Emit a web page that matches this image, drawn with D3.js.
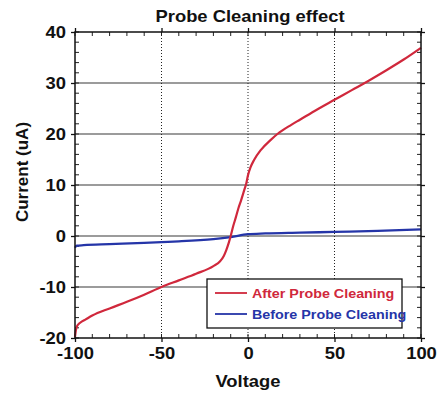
<!DOCTYPE html>
<html>
<head>
    <meta charset="utf-8">
    <title>probe cleaning</title>
    <script type="text/javascript" src="https://d3js.org/d3.v7.min.js"></script>
    <style>
      body { margin: 0; background: white; }
      text { font-family: "Liberation Sans", Arial, sans-serif; font-weight: bold; }
    </style>
</head>
<body>
<script type="text/javascript">

// After Probe Cleaning (red)
var afterV = [-100, -99.5, -99, -97, -94, -90, -80, -70, -60, -50, -40, -30, -20, -16, -14, -12.5, -11, -10, -8.5, -7, -5.5, -4, -2, -1, 0, 1.5, 3.5, 7.5, 13, 17, 25, 30, 40, 50, 60, 70, 80, 90, 100]
var afterI = [-19.8, -18.5, -17.8, -17, -16.4, -15.6, -14.2, -12.9, -11.5, -10, -8.7, -7.4, -5.9, -4.9, -3.9, -2.7, -1.2, 0, 2, 3.7, 5.5, 7, 9.2, 10.3, 11.9, 13.5, 14.9, 16.9, 18.8, 20, 21.8, 22.8, 24.8, 26.7, 28.6, 30.5, 32.5, 34.6, 36.9]

// Before Probe Cleaning (blue)
var beforeV = [-100, -99, -95, -80, -60, -50, -40, -20, -10, 0, 10, 30, 50, 75, 100]
var beforeI = [-2.3, -1.9, -1.8, -1.6, -1.35, -1.2, -1.05, -0.6, -0.2, 0.35, 0.5, 0.65, 0.8, 1.0, 1.3]

var xTicks = [-100, -50, 0, 50, 100]
var yTicks = [-20, -10, 0, 10, 20, 30, 40]
var xGrid = [-50, 0, 50]
var yGrid = [-10, 0, 10, 20, 30]

var seriesNames = ["After Probe Cleaning", "Before Probe Cleaning"]
var seriesColors = ["#d0283c", "#2535a8"]

var width = 440
var height = 394
var pLeft = 75, pRight = 421, pTop = 32, pBottom = 338
var stretch = 1.15
var fmt = function(d){ return String(d) }   // plain hyphen minus like the original

var svg = d3.select("body").append("svg").attr("width", width).attr("height", height)

var x = d3.scaleLinear().domain([-100, 100]).range([pLeft, pRight])
var y = d3.scaleLinear().domain([-20, 40]).range([pBottom, pTop])

// grid
svg.append("g").selectAll("line")
    .data(yGrid)
    .enter()
    .append("line")
    .attr("x1", pLeft).attr("x2", pRight)
    .attr("y1", function(d){ return y(d) }).attr("y2", function(d){ return y(d) })
    .attr("stroke", "#7a7a7a")
    .attr("stroke-width", 1.4)

svg.append("g").selectAll("line")
    .data(xGrid)
    .enter()
    .append("line")
    .attr("y1", pTop).attr("y2", pBottom)
    .attr("x1", function(d){ return x(d) }).attr("x2", function(d){ return x(d) })
    .attr("stroke", "#222")
    .attr("stroke-width", 1)
    .attr("stroke-dasharray", "1,2")

// minor ticks (inside, all four sides)
var xMinor = d3.range(-100, 101, 10)
var yMinor = d3.range(-20, 41, 2)
var minor = svg.append("g").attr("stroke", "#222").attr("stroke-width", 1)
xMinor.forEach(function(d){
    minor.append("line").attr("x1", x(d)).attr("x2", x(d)).attr("y1", pBottom).attr("y2", pBottom - 4)
    minor.append("line").attr("x1", x(d)).attr("x2", x(d)).attr("y1", pTop).attr("y2", pTop + 4)
})
yMinor.forEach(function(d){
    minor.append("line").attr("y1", y(d)).attr("y2", y(d)).attr("x1", pLeft).attr("x2", pLeft + 4)
    minor.append("line").attr("y1", y(d)).attr("y2", y(d)).attr("x1", pRight).attr("x2", pRight - 4)
})

// axes with outward major ticks
var xAxis = svg.append("g")
    .attr("transform", "translate(0," + pBottom + ")")
    .call(d3.axisBottom(x).tickValues(xTicks).tickSize(4).tickPadding(6).tickFormat(fmt))
var yAxis = svg.append("g")
    .attr("transform", "translate(" + pLeft + ",0)")
    .call(d3.axisLeft(y).tickValues(yTicks).tickSize(4).tickPadding(5).tickFormat(fmt))
svg.append("g")
    .attr("transform", "translate(0," + pTop + ")")
    .call(d3.axisTop(x).tickValues(xTicks).tickSize(4).tickFormat(""))
svg.append("g")
    .attr("transform", "translate(" + pRight + ",0)")
    .call(d3.axisRight(y).tickValues(yTicks).tickSize(4).tickFormat(""))

svg.selectAll(".domain").remove()
svg.selectAll(".tick line").attr("stroke", "#111").attr("stroke-width", 1.3)

xAxis.attr("font-family", null)
yAxis.attr("font-family", null)
xAxis.selectAll("text")
    .attr("font-size", 16).attr("fill", "#111")
    .attr("transform", "scale(" + stretch + ",1)")
yAxis.selectAll("text")
    .attr("font-size", 16).attr("fill", "#111")
    .attr("dy", "0.36em")
    .attr("transform", "scale(" + stretch + ",1)")
    .attr("x", -9 / stretch)

// data lines
var line = d3.line()
    .x(function(d){ return x(d[0]) })
    .y(function(d){ return y(d[1]) })
    .curve(d3.curveMonotoneX)

var afterData = afterV.map(function(v, i){ return [v, afterI[i]] })
var beforeData = beforeV.map(function(v, i){ return [v, beforeI[i]] })

svg.append("path")
    .datum(beforeData)
    .attr("d", line)
    .attr("fill", "none")
    .attr("stroke", seriesColors[1])
    .attr("stroke-width", 2.3)

svg.append("path")
    .datum(afterData)
    .attr("d", line)
    .attr("fill", "none")
    .attr("stroke", seriesColors[0])
    .attr("stroke-width", 2.2)

// frame
svg.append("rect")
    .attr("x", pLeft).attr("y", pTop)
    .attr("width", pRight - pLeft).attr("height", pBottom - pTop)
    .attr("fill", "none")
    .attr("stroke", "#111")
    .attr("stroke-width", 1.5)

// legend
var legend = svg.append("g").attr("transform", "translate(207,279)")
legend.append("rect")
    .attr("width", 195).attr("height", 49)
    .attr("fill", "white")
    .attr("stroke", "#111")
    .attr("stroke-width", 1.3)
seriesNames.forEach(function(name, i){
    var ly = 14 + i * 21
    legend.append("line")
        .attr("x1", 8).attr("x2", 40)
        .attr("y1", ly).attr("y2", ly)
        .attr("stroke", seriesColors[i])
        .attr("stroke-width", 1.8)
    legend.append("text")
        .attr("transform", "translate(45," + (ly + 4.5) + ") scale(1.06,1)")
        .attr("font-size", 13.5)
        .attr("fill", seriesColors[i])
        .text(name)
})

// titles
svg.append("text")
    .attr("transform", "translate(250,22) scale(" + stretch + ",1)")
    .attr("text-anchor", "middle")
    .attr("font-size", 16)
    .attr("fill", "#111")
    .text("Probe Cleaning effect")

svg.append("text")
    .attr("transform", "translate(248,387) scale(" + stretch + ",1)")
    .attr("text-anchor", "middle")
    .attr("font-size", 16)
    .attr("fill", "#111")
    .text("Voltage")

svg.append("text")
    .attr("transform", "translate(28,172) rotate(-90)")
    .attr("text-anchor", "middle")
    .attr("font-size", 17)
    .attr("fill", "#111")
    .text("Current (uA)")

</script>
</body>
</html>
